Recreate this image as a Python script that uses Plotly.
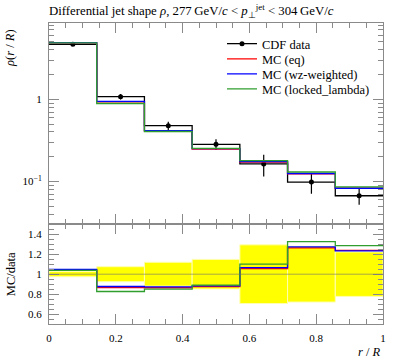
import plotly.graph_objects as go

# ---- data ----
r_edges = [0.0, 0.142857, 0.285714, 0.428571, 0.571429, 0.714286, 0.857143, 1.0]
cdf_data = [4.68, 1.076, 0.477, 0.283, 0.163, 0.098, 0.0668]
cdf_err = [0.122, 0.081, 0.057, 0.042, 0.048, 0.0274, 0.0149]
mc_eq = [4.87, 0.932, 0.412, 0.2476, 0.172, 0.1238, 0.0828]
mc_wz = [4.90, 0.943, 0.416, 0.250, 0.1738, 0.1248, 0.0824]
mc_locked = [4.86, 0.889, 0.4055, 0.252, 0.1793, 0.130, 0.0859]

main_tickvals = [0.1, 1]
main_ticktext = ["10<sup>\u22121</sup>", "1"]
main_minor = [0.03, 0.04, 0.05, 0.06, 0.07, 0.08, 0.09, 0.2, 0.3, 0.4, 0.5, 0.6, 0.7, 0.8, 0.9,
              2, 3, 4, 5, 6, 7, 8, 9]
ratio_tickvals = [0.6, 0.8, 1.0, 1.2, 1.4]
ratio_ticktext = ["0.6", "0.8", "1", "1.2", "1.4"]
x_tickvals = [0, 0.2, 0.4, 0.6, 0.8, 1.0]
x_ticktext = ["0", "0.2", "0.4", "0.6", "0.8", "1"]

FONT = "Liberation Serif"
AX = "#8a8a8a"
W, H = 397, 358
L, R, T, B = 49, 14, 23, 34
PH = H - T - B

centers = [(a + b) / 2 for a, b in zip(r_edges[:-1], r_edges[1:])]
widths = [b - a for a, b in zip(r_edges[:-1], r_edges[1:])]


def step(vals):
    return list(vals) + [vals[-1]]


# combined data trace: starts at the first bin centre (so the legend shows a dot),
# then runs as a step line through the bin edges with markers + error bars at centres
CLEAR = "rgba(0,0,0,0)"
dx = [centers[0], r_edges[0]]
dy = [cdf_data[0], cdf_data[0]]
dc = ["black", CLEAR]
de = [cdf_err[0], 0]
for i in range(1, len(cdf_data)):
    dx += [r_edges[i], centers[i]]
    dy += [cdf_data[i], cdf_data[i]]
    dc += [CLEAR, "black"]
    de += [0, cdf_err[i]]
dx.append(r_edges[-1])
dy.append(cdf_data[-1])
dc.append(CLEAR)
de.append(0)

fig = go.Figure()

# ratio band
rel = [e / d for e, d in zip(cdf_err, cdf_data)]
fig.add_trace(go.Bar(x=centers, y=[2 * r for r in rel], base=[1 - r for r in rel], width=widths,
                     marker=dict(color="#ffff00", line=dict(color="#ffffb0", width=1)),
                     xaxis="x2", yaxis="y2", showlegend=False, hoverinfo="skip"))

series = [("MC (eq)", mc_eq, "#ff0000"), ("MC (wz-weighted)", mc_wz, "#0000ff"),
          ("MC (locked_lambda)", mc_locked, "#2f9e2f")]

fig.add_trace(go.Scatter(x=dx, y=dy, mode="lines+markers", line=dict(color="black", width=1.3, shape="hv"),
                         marker=dict(color=dc, size=5),
                         error_y=dict(type="data", array=de, color="black", thickness=1.2, width=0),
                         name="CDF data", xaxis="x", yaxis="y", legend="legend"))

legnames = ["legend2", "legend3", "legend4"]
for (name, vals, col), lg in zip(series, legnames):
    fig.add_trace(go.Scatter(x=r_edges, y=step(vals), mode="lines",
                             line=dict(color=col, width=1.3, shape="hv"),
                             name=name, xaxis="x", yaxis="y", legend=lg))
for name, vals, col in series:
    ratio = [m / d for m, d in zip(vals, cdf_data)]
    fig.add_trace(go.Scatter(x=r_edges, y=step(ratio), mode="lines",
                             line=dict(color=col, width=1.3, shape="hv"),
                             showlegend=False, xaxis="x2", yaxis="y2"))

common = dict(showline=True, linecolor=AX, linewidth=1, mirror="ticks", ticks="inside",
              tickcolor=AX, ticklen=10, tickwidth=1, showgrid=False, zeroline=False,
              tickfont=dict(family=FONT, size=11, color="black"))
minor_x = dict(ticks="inside", ticklen=5, dtick=0.05, tick0=0, tickcolor=AX, showgrid=False)


def legend_at(center_y):
    return dict(x=(222 - L) / (W - L - R), xanchor="left", y=1 - (center_y - 15 - T) / PH, yanchor="top",
                bgcolor="rgba(0,0,0,0)", font=dict(family=FONT, size=12.5))


RD = 0.331
fig.update_layout(
    width=W, height=H,
    margin=dict(l=L, r=R, t=T, b=B),
    paper_bgcolor="white", plot_bgcolor="white",
    barmode="overlay",
    font=dict(family=FONT, size=12, color="black"),
    title=dict(text="Differential jet shape <i>\u03c1</i>, 277\u2009GeV/<i>c</i> &lt; <i>p</i><sub>\u22a5</sub><sup>jet</sup> &lt; 304\u2009GeV/<i>c</i>",
               x=L / W, xanchor="left", y=1 - 11 / H, yanchor="middle",
               font=dict(family=FONT, size=12.8, color="black")),
    xaxis=dict(domain=[0, 1], anchor="y", range=[0, 1], tickvals=x_tickvals, showticklabels=False,
               minor=minor_x, **common),
    yaxis=dict(domain=[RD, 1], anchor="x", type="log", range=[-1.524, 0.930],
               tickvals=main_tickvals, ticktext=main_ticktext, ticklabelstandoff=4,
               minor=dict(ticks="inside", ticklen=5, tickvals=main_minor, tickcolor=AX, showgrid=False),
               **common),
    xaxis2=dict(domain=[0, 1], anchor="y2", range=[0, 1], tickvals=x_tickvals, ticktext=x_ticktext,
                minor=minor_x, ticklabelstandoff=4, **common),
    yaxis2=dict(domain=[0, RD], anchor="x2", range=[0.5, 1.5], tickvals=ratio_tickvals,
                ticktext=ratio_ticktext, ticklabelstandoff=4,
                minor=dict(ticks="inside", ticklen=5, dtick=0.05, tick0=0, tickcolor=AX, showgrid=False),
                **common),
    legend=legend_at(44),
    legend2=legend_at(59.3),
    legend3=legend_at(74.3),
    legend4=legend_at(89.3),
    shapes=[dict(type="line", xref="paper", x0=0, x1=1, yref="y2", y0=1, y1=1,
                 line=dict(color="rgba(110,110,110,0.6)", width=1), layer="above")],
    annotations=[
        dict(text="<i>\u03c1</i>(<i>r</i> / <i>R</i>)", xref="paper", yref="paper", x=(10 - L) / (W - L - R),
             y=1 - 4 / PH, xanchor="center", yanchor="top", textangle=-90, showarrow=False,
             font=dict(family=FONT, size=12.5)),
        dict(text="MC/data", xref="paper", yref="paper", x=(11 - L) / (W - L - R), y=RD / 2,
             xanchor="center", yanchor="middle", textangle=-90, showarrow=False,
             font=dict(family=FONT, size=12.5)),
        dict(text="<i>r</i> / <i>R</i>", xref="paper", yref="paper", x=1, y=-(352 - (H - B)) / PH,
             xanchor="right", yanchor="middle", showarrow=False, font=dict(family=FONT, size=12.5)),
    ],
)

fig.write_html("out.html", config={"displayModeBar": False},
               post_script="document.body.style.margin='0';document.body.style.overflow='hidden';")
